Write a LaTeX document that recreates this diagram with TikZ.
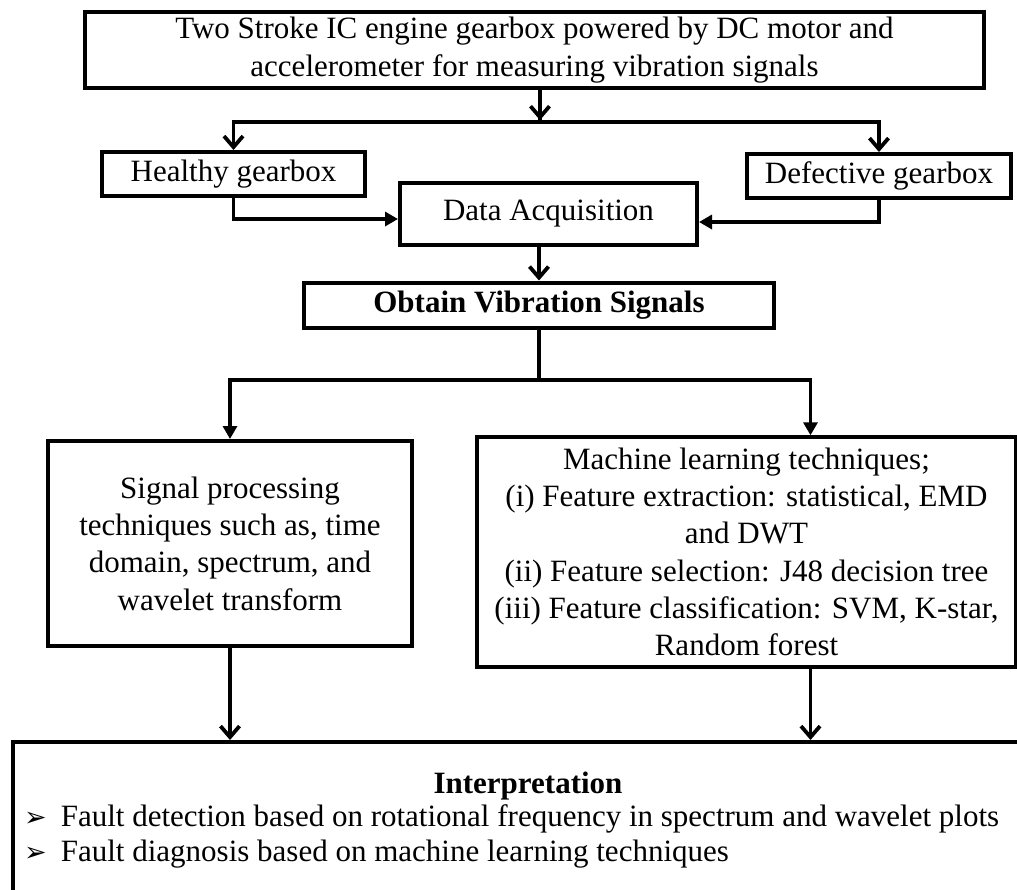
\documentclass[tikz,border=0pt]{standalone}
\usepackage{fontspec}
\setmainfont{Liberation Serif}
\newfontfamily\symbolfont{DejaVu Sans}
\usepackage{tikz}
\usetikzlibrary{arrows.meta,positioning}

\newcommand{\itemarrow}{{\symbolfont\fontsize{27}{27}\selectfont ➢}}

\begin{document}
\begin{tikzpicture}[
    x=1pt,y=-1pt,
    box/.style={draw,rectangle,line width=4pt,align=center,inner sep=0pt,font=\fontsize{31}{37.3}\selectfont},
    conn/.style={line width=3.8pt},
    varrow/.style={conn,-{Straight Barb[length=11pt,width=19pt,line width=3.8pt]}},
    tarrow/.style={conn,-{Triangle[length=13pt,width=14pt]}}
]
\useasboundingbox (0,0) rectangle (1017,889);
\clip (0,0) rectangle (1017,889);
\fill[white] (0,0) rectangle (1017,889);

\node[box,line width=4.6pt,minimum width=899pt,minimum height=76pt] (engine) at (534.5,50)
  {Two Stroke IC engine gearbox powered by DC motor and\\accelerometer for measuring vibration signals};
\node[box,minimum width=263pt,minimum height=44pt] (healthy) at (233.5,174) {Healthy gearbox};
\node[box,minimum width=264pt,minimum height=44pt] (defective) at (879,176) {Defective gearbox};
\node[box,minimum width=297pt,minimum height=62pt] (daq) at (548.5,214) {Data Acquisition};
\node[box,minimum width=470pt,minimum height=45pt,font=\fontsize{31}{37.3}\selectfont\bfseries] (obtain) at (539,305) {Obtain Vibration Signals};
\node[box,minimum width=364pt,minimum height=205pt] (signal) at (230,543.5)
  {Signal processing\\techniques such as, time\\domain, spectrum, and\\wavelet transform};
\node[box,line width=3.4pt,minimum width=539pt,minimum height=230pt] (mlearn) at (746.5,552)
  {Machine learning techniques;\\(i) Feature extraction: statistical, EMD\\and DWT\\(ii) Feature selection: J48 decision tree\\(iii) Feature classification: SVM, K-star,\\Random forest};
\node[box,line width=3.8pt,anchor=north west,minimum width=1035pt,minimum height=200pt] (interp) at (11,740) {};
\node[font=\fontsize{31}{37.3}\selectfont\bfseries,inner sep=0pt] (interptitle) at (528,786) {Interpretation};
\node[anchor=west,inner sep=0pt,font=\fontsize{31}{37.3}\selectfont] (detect) at (24,819)
  {\itemarrow\hspace{14pt}Fault detection based on rotational frequency in spectrum and wavelet plots};
\node[anchor=west,inner sep=0pt,font=\fontsize{31}{37.3}\selectfont] (diagnose) at (24,854)
  {\itemarrow\hspace{14pt}Fault diagnosis based on machine learning techniques};

\coordinate (split1) at (540,122);
\coordinate (split2) at (539,380);

\draw[conn] (engine.south -| split1) -- (split1);
\draw[varrow] (engine.south -| split1) -- ([yshift=1.9pt]split1);
\draw[varrow] (split1) -| (healthy.north);
\draw[varrow] (split1) -| (defective.north);
\draw[tarrow] (healthy.south) |- ([yshift=-5pt]daq.west);
\draw[tarrow] (defective.south) |- ([yshift=-8pt]daq.east);
\draw[varrow] (daq.south -| obtain.north) -- (obtain.north);
\draw[conn] (obtain.south) -- (split2);
\draw[tarrow] (split2) -| (signal.north);
\draw[tarrow] (split2) -| ([xshift=64pt]mlearn.north);
\draw[varrow] (signal.south) -- (signal.south |- interp.north);
\draw[varrow] ([xshift=64pt]mlearn.south) -- ([xshift=64pt]mlearn.south |- interp.north);
\end{tikzpicture}
\end{document}
